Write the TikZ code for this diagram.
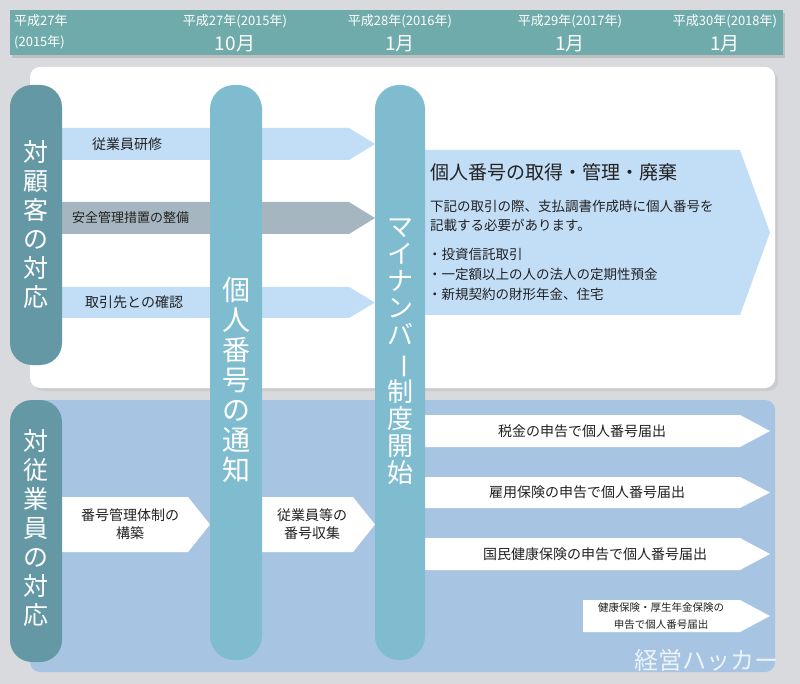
\documentclass[tikz,border=0pt]{standalone}
\usepackage{fontspec}
\setmainfont{Noto Sans CJK JP}
\usepackage{graphicx}
\definecolor{bgray}{HTML}{D9DADD}
\definecolor{bar}{HTML}{6FABAA}
\definecolor{pillarA}{HTML}{6598A5}
\definecolor{pillarB}{HTML}{7FBCCF}
\definecolor{lightblue}{HTML}{C2DDF6}
\definecolor{panelblue}{HTML}{A7C4E3}
\definecolor{steel}{HTML}{A6B6C0}
\definecolor{ink}{HTML}{222222}
\tikzset{
  bartext/.style={text=white,font=\fontsize{13}{14}\selectfont,inner sep=0pt},
  barmonth/.style={text=white,font=\fontsize{19}{20}\selectfont,inner sep=0pt},
  vtext/.style={text=white,align=center,inner sep=0pt},
  label/.style={text=ink,font=\fontsize{14}{18}\selectfont,align=center,inner sep=0pt},
}
% arrow box: x1,y1,x2,y2,tip length
\newcommand{\arrowbox}[6]{%
  \fill[#6] (#1,#2) -- (#3-#5,#2) -- (#3,{(#2+#4)/2}) -- (#3-#5,#4) -- (#1,#4) -- cycle;}
\newcommand{\vbar}{\rotatebox[origin=c]{-90}{ー}}
\begin{document}
\begin{tikzpicture}[x=1pt,y=-1pt]
  \useasboundingbox (0,0) rectangle (800,684);
  \fill[bgray] (0,0) rectangle (800,684);
  % time bar
  \fill[black!25] (12,13) rectangle (785,58);
  \fill[bar] (10,10) rectangle (783,55);
  \node[bartext,anchor=west] (y0a) at (14,21) {平成27年};
  \node[bartext,anchor=west] (y0b) at (14,42) {(2015年)};
  \node[bartext] (y1) at (235,21) {平成27年(2015年)};
  \node[barmonth] (m1) at (235,44) {10月};
  \node[bartext] (y2) at (400,21) {平成28年(2016年)};
  \node[barmonth] (m2) at (400,44) {1月};
  \node[bartext] (y3) at (570,21) {平成29年(2017年)};
  \node[barmonth] (m3) at (570,44) {1月};
  \node[bartext] (y4) at (725,21) {平成30年(2018年)};
  \node[barmonth] (m4) at (725,44) {1月};
  % panels
  \fill[black!20,rounded corners=10] (33,70) rectangle (778,391);
  \fill[white,rounded corners=10] (30,67) rectangle (775,388);
  \fill[panelblue,rounded corners=10] (30,400) rectangle (775,672);
  % top arrows
  \arrowbox{62}{128}{375}{160}{26}{lightblue}
  \arrowbox{62}{202}{375}{234}{26}{steel}
  \arrowbox{62}{287}{375}{318}{26}{lightblue}
  \arrowbox{425}{150}{770}{315}{30}{lightblue}
  \node[label,anchor=west] (t1) at (92,144) {従業員研修};
  \node[label,anchor=west,font=\fontsize{13}{15}\selectfont] (t2) at (72,218) {安全管理措置の整備};
  \node[label,anchor=west] (t3) at (85,302) {取引先との確認};
  \node[label,anchor=west,font=\fontsize{19}{22}\selectfont] (big) at (430,172) {個人番号の取得・管理・廃棄};
  \node[label,anchor=north west,align=left,font=\fontsize{13.5}{19}\selectfont] (bigtxt) at (430,200)
    {下記の取引の際、支払調書作成時に個人番号を\\記載する必要があります。};
  \node[label,anchor=north west,align=left,font=\fontsize{13.5}{20}\selectfont] (items) at (428,248)
    {・投資信託取引\\・一定額以上の人の法人の定期性預金\\・新規契約の財形年金、住宅};
  % bottom arrows
  \arrowbox{62}{497}{210}{552}{22}{white}
  \arrowbox{262}{497}{375}{552}{22}{white}
  \arrowbox{425}{415}{770}{447}{30}{white}
  \arrowbox{425}{477}{770}{508}{30}{white}
  \arrowbox{425}{538}{770}{570}{30}{white}
  \arrowbox{583}{600}{770}{632}{30}{white}
  \node[label] (b1) at (130,524) {番号管理体制の\\構築};
  \node[label] (b2) at (312,524) {従業員等の\\番号収集};
  \node[label] (b3) at (582,431) {税金の申告で個人番号届出};
  \node[label] (b4) at (587,492) {雇用保険の申告で個人番号届出};
  \node[label] (b5) at (595,554) {国民健康保険の申告で個人番号届出};
  \node[label,font=\fontsize{10.5}{17}\selectfont] (b6) at (661,616) {健康保険・厚生年金保険の\\申告で個人番号届出};
  % pillars
  \fill[pillarA,rounded corners=22] (10,85) rectangle (62,365);
  \fill[pillarA,rounded corners=22] (10,400) rectangle (62,662);
  \fill[pillarB,rounded corners=24] (210,85) rectangle (262,660);
  \fill[pillarB,rounded corners=24] (375,85) rectangle (425,660);
  \node[vtext,font=\fontsize{25}{29}\selectfont] (p1) at (36,225) {対\\顧\\客\\の\\対\\応};
  \node[vtext,font=\fontsize{25}{29}\selectfont] (p2) at (36,528) {対\\従\\業\\員\\の\\対\\応};
  \node[vtext,font=\fontsize{28}{30}\selectfont] (p3) at (236,380) {個\\人\\番\\号\\の\\通\\知};
  \node[vtext,font=\fontsize{26}{27}\selectfont] (p4) at (400,352) {マ\\イ\\ナ\\ン\\バ\\\vbar\\制\\度\\開\\始};
  % watermark
  \node[text=white,opacity=0.8,font=\fontsize{24}{26}\selectfont,inner sep=0pt] (wm) at (706,660) {経営ハッカー};
\end{tikzpicture}
\end{document}
